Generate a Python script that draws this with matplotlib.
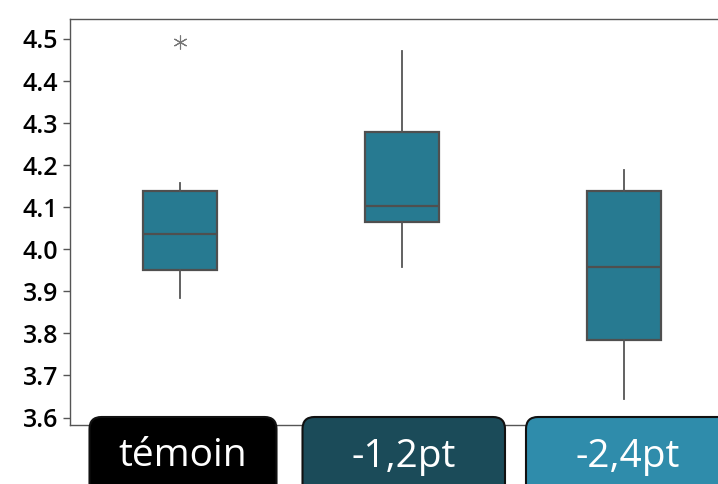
import matplotlib
matplotlib.use("Agg")
import matplotlib.pyplot as plt
from matplotlib.patches import FancyBboxPatch

# five-number summaries per group
groups = ["témoin", "-1,2pt", "-2,4pt"]
whisk_lo = [3.885, 3.957, 3.644]
q1 = [3.951, 4.066, 3.785]
med = [4.037, 4.104, 3.957]
q3 = [4.139, 4.280, 4.139]
whisk_hi = [4.158, 4.472, 4.189]
outliers = [[4.493], [], []]

label_colors = ["#000000", "#1b4b59", "#2f8cab"]
box_color = "#277a91"
edge = "#4f4f4f"

plt.rcParams["font.family"] = ["Open Sans", "DejaVu Sans"]

fig = plt.figure(figsize=(7.18, 4.84), dpi=100)
W, H = 718, 484
ax = fig.add_axes([69.5 / W, (H - 424.7) / H, (734.7 - 69.5) / W, (424.7 - 19) / H])

stats = []
for i in range(len(groups)):
    stats.append(dict(whislo=whisk_lo[i], q1=q1[i], med=med[i], q3=q3[i],
                      whishi=whisk_hi[i], fliers=outliers[i]))

ax.bxp(stats, positions=range(len(groups)), widths=0.333, patch_artist=True,
       showcaps=False,
       boxprops=dict(facecolor=box_color, edgecolor=edge, linewidth=1.6),
       medianprops=dict(color=edge, linewidth=1.6),
       whiskerprops=dict(color="#555555", linewidth=1.3),
       flierprops=dict(marker=(6, 2, 0), markersize=10, markeredgecolor="#777777",
                       markeredgewidth=0.8, linestyle="none"))

ax.set_xlim(-0.5, 2.5)
ax.set_ylim(3.583, 4.5475)
ax.set_yticks([3.6, 3.7, 3.8, 3.9, 4.0, 4.1, 4.2, 4.3, 4.4, 4.5])
ax.set_yticklabels([f"{v:.1f}" for v in ax.get_yticks()])
ax.tick_params(axis="y", labelsize=18, length=5, width=1, color="#555555", pad=3)
for lab in ax.get_yticklabels():
    lab.set_fontweight("semibold")
ax.set_xticks([])
for s in ax.spines.values():
    s.set_color("#555555")
    s.set_linewidth(1)

# rounded group labels along the bottom
label_boxes = [(89.5, 276.5), (302.5, 505), (526, 730)]
for name, (x0, x1), col in zip(groups, label_boxes, label_colors):
    p = FancyBboxPatch((x0, -30), x1 - x0, (H - 417) + 30,
                       boxstyle="round,pad=0,rounding_size=12",
                       transform=None, facecolor=col, edgecolor="#111111",
                       linewidth=1.5, zorder=5)
    fig.patches.append(p)
    fig.text((x0 + x1) / 2 / W, (H - 466.5) / H, name, color="white",
             fontsize=28, ha="center", va="baseline", zorder=6)

fig.savefig("out.png", dpi=100)
